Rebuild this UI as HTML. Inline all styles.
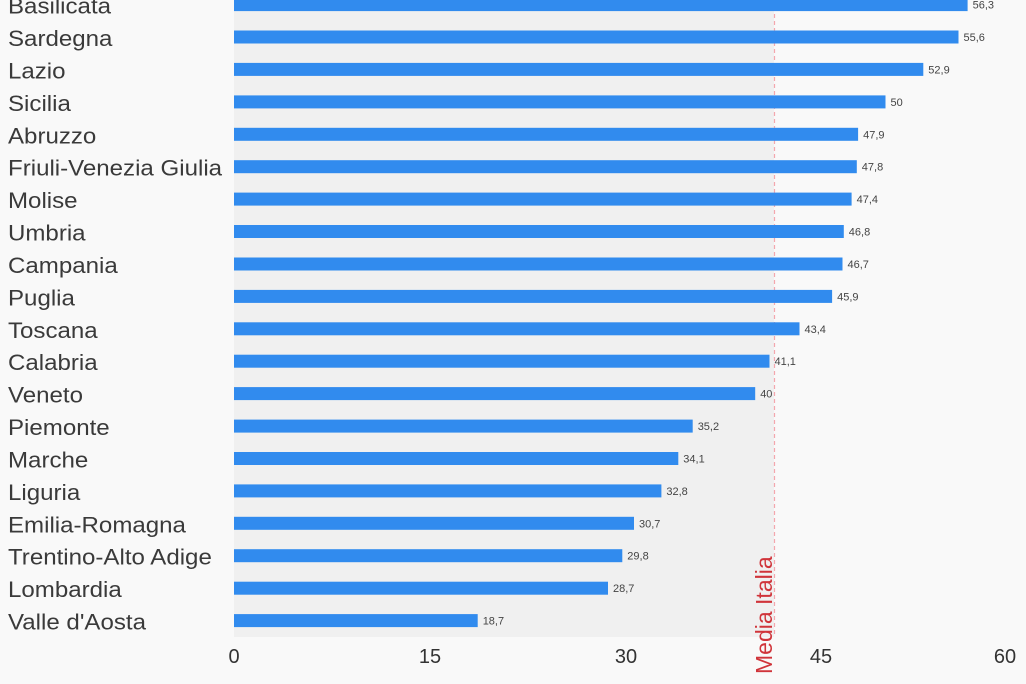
<!DOCTYPE html>
<html><head><meta charset="utf-8"><style>
html,body{margin:0;padding:0;background:#f9f9f9;}
svg{display:block;font-family:"Liberation Sans",sans-serif;}
</style></head><body>
<svg width="1026" height="684" xmlns="http://www.w3.org/2000/svg">
<rect width="1026" height="684" fill="#f9f9f9"/>
<rect x="234" y="0" width="540" height="637" fill="#f0f0f0"/>
<line x1="774.5" y1="0" x2="774.5" y2="637" stroke="#f4a7ad" stroke-width="1.2" stroke-dasharray="4,3"/>
<g fill="#318bee">
<rect x="234" y="-1.9" width="733.6" height="13"/>
<rect x="234" y="30.5" width="724.5" height="13"/>
<rect x="234" y="62.9" width="689.3" height="13"/>
<rect x="234" y="95.4" width="651.5" height="13"/>
<rect x="234" y="127.8" width="624.1" height="13"/>
<rect x="234" y="160.2" width="622.8" height="13"/>
<rect x="234" y="192.6" width="617.6" height="13"/>
<rect x="234" y="225.0" width="609.8" height="13"/>
<rect x="234" y="257.5" width="608.5" height="13"/>
<rect x="234" y="289.9" width="598.1" height="13"/>
<rect x="234" y="322.3" width="565.5" height="13"/>
<rect x="234" y="354.7" width="535.5" height="13"/>
<rect x="234" y="387.1" width="521.2" height="13"/>
<rect x="234" y="419.6" width="458.7" height="13"/>
<rect x="234" y="452.0" width="444.3" height="13"/>
<rect x="234" y="484.4" width="427.4" height="13"/>
<rect x="234" y="516.8" width="400.0" height="13"/>
<rect x="234" y="549.2" width="388.3" height="13"/>
<rect x="234" y="581.7" width="374.0" height="13"/>
<rect x="234" y="614.1" width="243.7" height="13"/>
</g>
<g font-size="11" fill="#444">
<text x="972.6" y="8.6">56,3</text>
<text x="963.5" y="41.0">55,6</text>
<text x="928.3" y="73.4">52,9</text>
<text x="890.5" y="105.9">50</text>
<text x="863.1" y="138.3">47,9</text>
<text x="861.8" y="170.7">47,8</text>
<text x="856.6" y="203.1">47,4</text>
<text x="848.8" y="235.5">46,8</text>
<text x="847.5" y="268.0">46,7</text>
<text x="837.1" y="300.4">45,9</text>
<text x="804.5" y="332.8">43,4</text>
<text x="774.5" y="365.2">41,1</text>
<text x="760.2" y="397.6">40</text>
<text x="697.7" y="430.1">35,2</text>
<text x="683.3" y="462.5">34,1</text>
<text x="666.4" y="494.9">32,8</text>
<text x="639.0" y="527.3">30,7</text>
<text x="627.3" y="559.7">29,8</text>
<text x="613.0" y="592.2">28,7</text>
<text x="482.7" y="624.6">18,7</text>
</g>
<g font-size="22.5" fill="#3a3a3a" transform="translate(8,1) scale(1.07,1)">
<text x="0" y="12.6">Basilicata</text>
<text x="0" y="45.0">Sardegna</text>
<text x="0" y="77.4">Lazio</text>
<text x="0" y="109.9">Sicilia</text>
<text x="0" y="142.3">Abruzzo</text>
<text x="0" y="174.7">Friuli-Venezia Giulia</text>
<text x="0" y="207.1">Molise</text>
<text x="0" y="239.5">Umbria</text>
<text x="0" y="272.0">Campania</text>
<text x="0" y="304.4">Puglia</text>
<text x="0" y="336.8">Toscana</text>
<text x="0" y="369.2">Calabria</text>
<text x="0" y="401.6">Veneto</text>
<text x="0" y="434.1">Piemonte</text>
<text x="0" y="466.5">Marche</text>
<text x="0" y="498.9">Liguria</text>
<text x="0" y="531.3">Emilia-Romagna</text>
<text x="0" y="563.7">Trentino-Alto Adige</text>
<text x="0" y="596.2">Lombardia</text>
<text x="0" y="628.6">Valle d'Aosta</text>
</g>
<g font-size="20" fill="#333" text-anchor="middle">
<text x="234" y="663">0</text><text x="430" y="663">15</text><text x="626" y="663">30</text><text x="821" y="663">45</text><text x="1005" y="663">60</text>
</g>
<text transform="translate(772,674) rotate(-90)" font-size="23" fill="#d0343a">Media Italia</text>
</svg>
</body></html>
